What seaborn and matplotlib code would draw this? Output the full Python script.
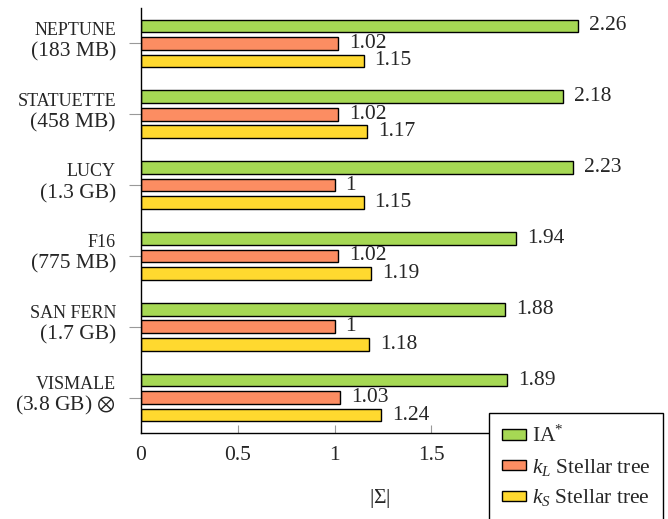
import matplotlib
matplotlib.use("Agg")
import matplotlib.pyplot as plt
import pandas as pd
import seaborn as sns

datasets = ["NEPTUNE", "STATUETTE", "LUCY", "F16", "SAN FERN", "VISMALE"]
sizes = ["(183 MB)", "(458 MB)", "(1.3 GB)", "(775 MB)", "(1.7 GB)", "(3.8 GB) $\\otimes$"]
series = ["IA*", "kL Stellar tree", "kS Stellar tree"]
legend_labels = ["IA$^{*}$", "$k_L\\ \\mathrm{Stellar\\ tree}$", "$k_S\\ \\mathrm{Stellar\\ tree}$"]
ia_star = [2.26, 2.18, 2.23, 1.94, 1.88, 1.89]
kl_stellar = [1.02, 1.02, 1.00, 1.02, 1.00, 1.03]
ks_stellar = [1.15, 1.17, 1.15, 1.19, 1.18, 1.24]
colors = ["#a6d854", "#fc8d62", "#ffd92f"]

rows = []
for name, vals in zip(series, [ia_star, kl_stellar, ks_stellar]):
    for d, v in zip(datasets, vals):
        rows.append({"dataset": d, "series": name, "value": v})
df = pd.DataFrame(rows)

sns.set_style("ticks")
plt.rcParams["font.family"] = ["Liberation Serif", "DejaVu Serif"]
plt.rcParams["mathtext.fontset"] = "custom"
plt.rcParams["mathtext.rm"] = "Liberation Serif"
plt.rcParams["mathtext.it"] = "Liberation Serif:italic"
plt.rcParams["mathtext.bf"] = "Liberation Serif:bold"
plt.rcParams["mathtext.fallback"] = "stix"
fs = 15.5

fig = plt.figure(figsize=(6.68, 5.19), dpi=100)
ax = fig.add_axes([141 / 668, 86 / 519, 478 / 668, 425 / 519])

sns.barplot(data=df, x="value", y="dataset", hue="series", orient="h",
            order=datasets, hue_order=series, palette=colors,
            edgecolor="black", linewidth=1, width=0.74, gap=0.28,
            saturation=1, ax=ax)

for cont, vals in zip(ax.containers, [ia_star, kl_stellar, ks_stellar]):
    ax.bar_label(cont, labels=["{:g}".format(v) for v in vals], padding=8,
                 fontsize=fs)

ax.set_xlim(0, 478 / 193.5)
ax.set_ylim(5.5, -0.5)
ax.set_xticks([0, 0.5, 1, 1.5])
ax.set_xticklabels(["0", "0.5", "1", "1.5"], fontsize=fs)
ax.tick_params(axis="x", direction="in", length=6, color="#999999", pad=9)
ax.tick_params(axis="y", direction="out", length=9, color="#999999")
ax.set_yticks(range(len(datasets)))
ax.set_yticklabels([])
ax.set_ylabel("")
ax.set_xlabel("$|\\Sigma|$", fontsize=fs, labelpad=16)
sns.despine(ax=ax)
for sp in ["left", "bottom"]:
    ax.spines[sp].set_color("black")
    ax.spines[sp].set_linewidth(1)

for i, (d, s) in enumerate(zip(datasets, sizes)):
    ax.annotate(d, xy=(0, i), xycoords=("axes fraction", "data"),
                xytext=(-18, 9.5), textcoords="offset points",
                ha="right", va="center", fontsize=13)
    ax.annotate(s, xy=(0, i), xycoords=("axes fraction", "data"),
                xytext=(-18, -6), textcoords="offset points",
                ha="right", va="center", fontsize=fs)

handles, _ = ax.get_legend_handles_labels()
ax.get_legend().remove()
leg = fig.legend(handles, legend_labels, loc="upper left",
                 bbox_to_anchor=(489 / 668, 106 / 519),
                 bbox_transform=fig.transFigure, borderaxespad=0,
                 fontsize=fs, frameon=True, fancybox=False, framealpha=1,
                 edgecolor="black", handlelength=1.1, handleheight=0.37,
                 handletextpad=0.3, labelspacing=0.45, borderpad=0.6)
leg.get_frame().set_linewidth(1)

fig.savefig("out.png", dpi=100)
